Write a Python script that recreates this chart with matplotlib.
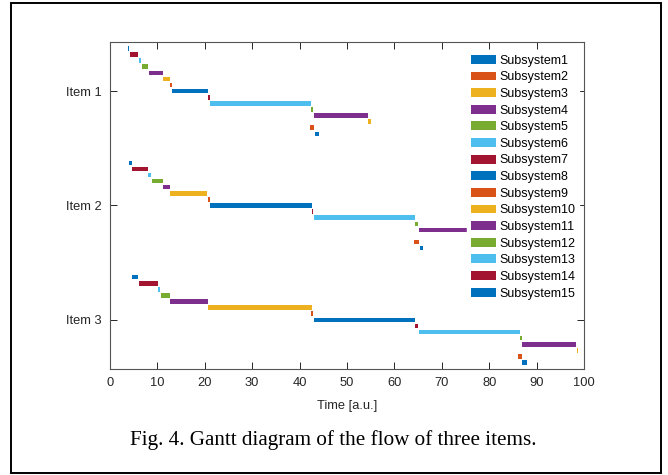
import matplotlib
matplotlib.use("Agg")
import matplotlib.pyplot as plt
from matplotlib.patches import Rectangle

items = ["Item 1", "Item 2", "Item 3"]
subsystems = ["Subsystem%d" % k for k in range(1, 16)]

# start / end times per item, subsystem 1..15
item1_start = [43.2, 42.2, 54.5, 43.0, 42.5, 21.2, 20.6, 13.1, 12.7, 11.2, 8.2, 6.7, 6.2, 4.3, 3.7]
item1_end   = [44.0, 43.1, 55.0, 54.5, 42.9, 42.5, 21.1, 20.6, 13.1, 12.6, 11.1, 8.1, 6.5, 6.0, 4.1]
item2_start = [65.3, 64.1, 75.5, 65.1, 64.4, 43.0, 42.6, 21.2, 20.6, 12.7, 11.2, 8.8, 8.1, 4.6, 4.1]
item2_end   = [66.0, 65.1, 75.9, 75.4, 64.9, 64.4, 42.9, 42.6, 21.1, 20.5, 12.6, 11.1, 8.6, 8.1, 4.6]
item3_start = [87.0, 86.1, 98.5, 87.0, 86.5, 65.1, 64.4, 43.1, 42.5, 20.6, 12.7, 10.7, 10.2, 6.2, 4.6]
item3_end   = [88.0, 86.9, 98.8, 98.4, 86.9, 86.4, 64.9, 64.4, 42.9, 42.6, 20.6, 12.6, 10.5, 10.2, 6.0]

x_ticks = [0, 10, 20, 30, 40, 50, 60, 70, 80, 90, 100]

starts = [item1_start, item2_start, item3_start]
ends = [item1_end, item2_end, item3_end]

base_colors = ["#0072BD", "#D95319", "#EDB120", "#7E2F8E", "#77AC30", "#4DBEEE", "#A2142F"]

plt.rcParams['font.family'] = ['Liberation Sans', 'DejaVu Sans']

W, H = 668, 475
fig = plt.figure(figsize=(W / 100, H / 100), dpi=100)
ax = fig.add_axes([110 / W, 1 - 369 / H, (584 - 110) / W, (369 - 42) / H])

step = 0.8 / 15
bar_h = 0.04
axcol = "#262626"

for k in range(15):
    ys = [i + 1 - (k + 1 - 8) * step for i in range(len(items))]
    lefts = [starts[i][k] for i in range(len(items))]
    widths = [ends[i][k] - starts[i][k] for i in range(len(items))]
    ax.barh(ys, widths, left=lefts, height=bar_h, color=base_colors[k % 7],
            label=subsystems[k], linewidth=0)

ax.set_xlim(0, 100)
ax.set_ylim(3.43, 0.57)
ax.set_xticks(x_ticks)
ax.set_yticks([1, 2, 3])
ax.set_yticklabels(items)
ax.tick_params(direction="in", length=5, width=0.7, color=axcol, labelcolor=axcol,
               labelsize=9.3, top=True, right=True, pad=6)
for s in ax.spines.values():
    s.set_color("#555555")
    s.set_linewidth(0.8)
ax.set_xlabel("Time [a.u.]", fontsize=9.3, color=axcol, labelpad=8)

leg = ax.legend(loc="upper right", bbox_to_anchor=(1 - 5 / 474, 1 - 9 / 327),
                fontsize=9, frameon=True, fancybox=False, edgecolor="white",
                facecolor="white", framealpha=1, handlelength=2.0, handleheight=0.72,
                handletextpad=0.25, labelspacing=0.37, borderpad=0.3, borderaxespad=0)
for t in leg.get_texts():
    t.set_color("black")

fig.text(333.5 / W, 1 - 440 / H, "Fig. 4. Gantt diagram of the flow of three items.",
         family=["Liberation Serif", "DejaVu Serif"], fontsize=15.2, ha="center", va="center",
         color="black")

fig.add_artist(Rectangle((11 / W, 1 - 473 / H), (661 - 11) / W, (473 - 3) / H,
                         transform=fig.transFigure, fill=False, edgecolor="black",
                         linewidth=1.4))

fig.savefig("out.png", dpi=100)
